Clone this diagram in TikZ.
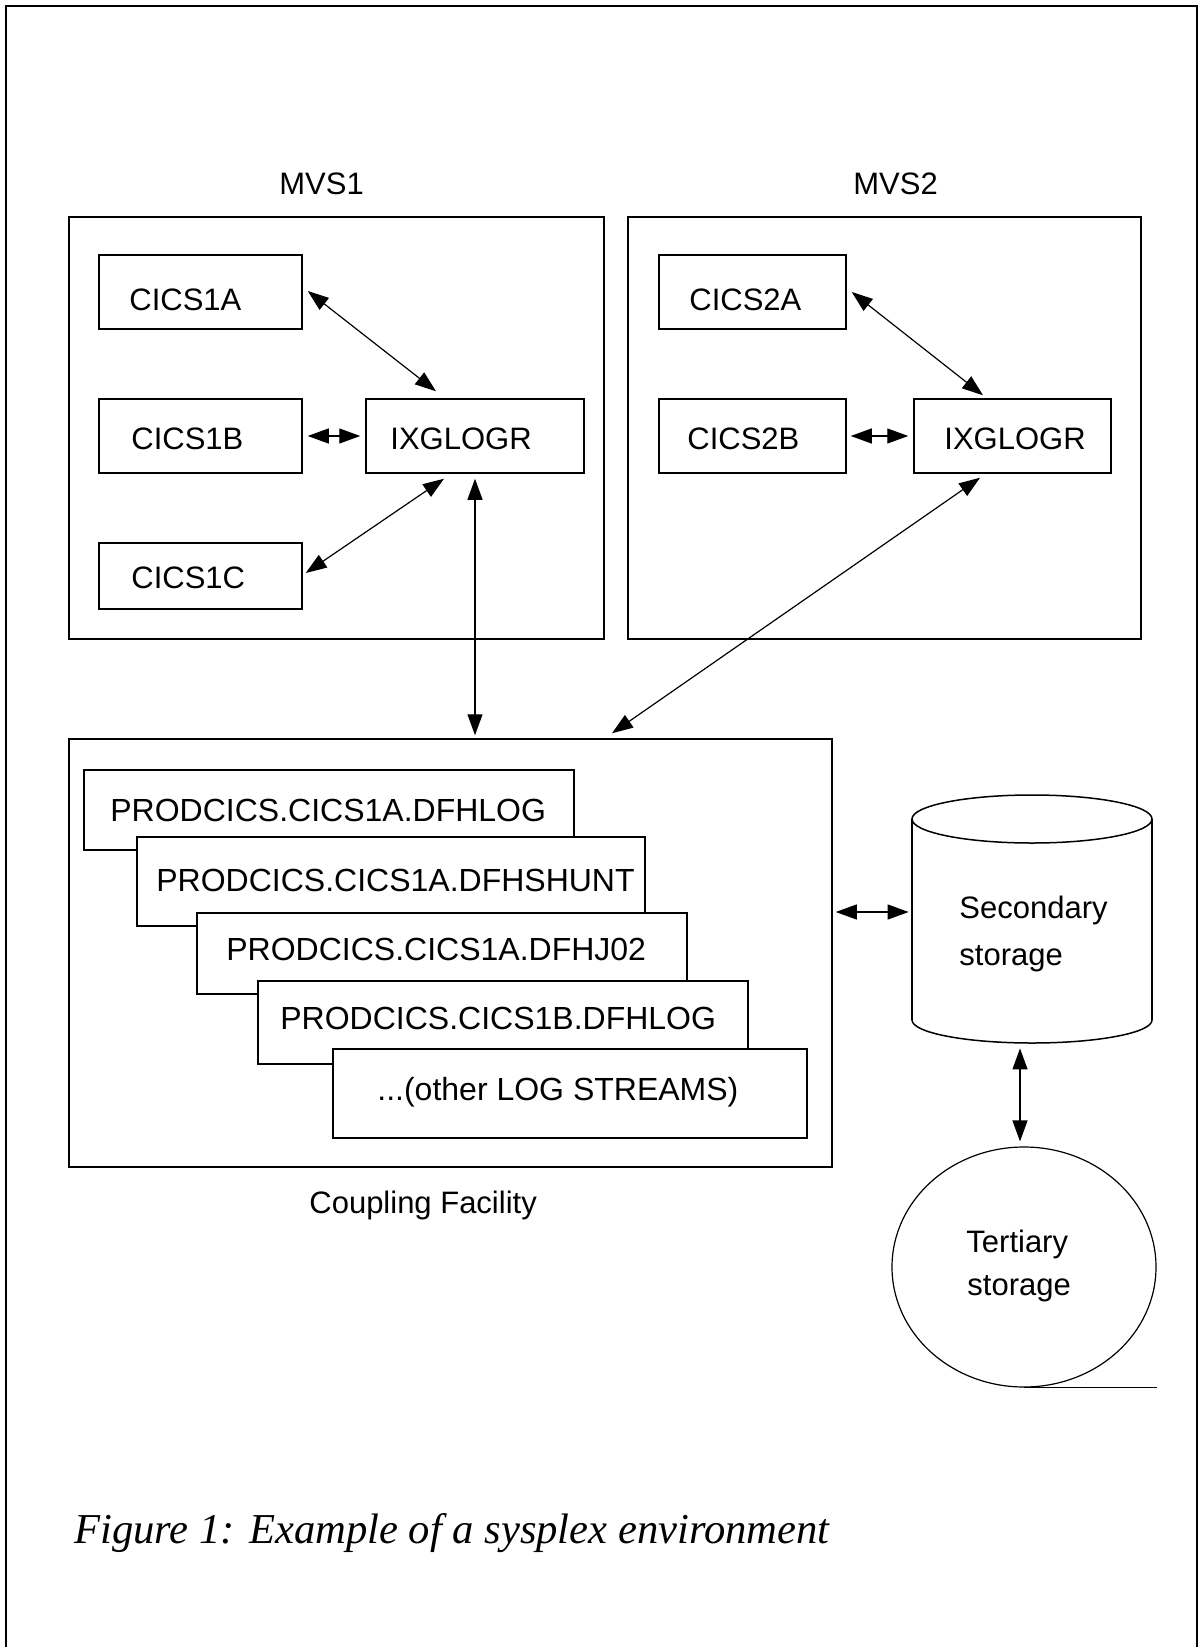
\documentclass[tikz,border=0pt]{standalone}
\usepackage{fontspec}
\setmainfont{Liberation Serif}
\newfontfamily\arialfont{Liberation Sans}
\usetikzlibrary{arrows.meta,fit,shapes.geometric}
\begin{document}
\begin{tikzpicture}[x=0.5pt,y=-0.5pt,
  box/.style={draw, line width=0.75pt, inner sep=0pt, fill=white},
  lbl/.style={font=\arialfont\fontsize{15.5}{18}\selectfont, inner sep=0pt, anchor=base west},
  lslbl/.style={font=\arialfont\fontsize{16}{19}\selectfont, inner sep=0pt, anchor=base west},
  arr/.style={line width=0.6pt, {Triangle[length=10.5pt,width=7.5pt]}-{Triangle[length=10.5pt,width=7.5pt]}},
  frame/.style={line width=1pt},
]
\useasboundingbox (0,0) rectangle (1199,1647);
% outer frame (open at the bottom)
\draw[frame] (6,1647) -- (6,6) -- (1197,6) -- (1197,1647);

% system boxes
\node[box, fit={(69,217)(604,639)}] (mvs1) {};
\node[box, fit={(628,217)(1141,639)}] (mvs2) {};
\node[lbl] (mvs1l) at (279,195) {MVS1};
\node[lbl] (mvs2l) at (853,195) {MVS2};

% MVS1 contents
\node[box, fit={(99,255)(302,329)}] (c1a) {};
\node[box, fit={(99,399)(302,473)}] (c1b) {};
\node[box, fit={(99,543)(302,609)}] (c1c) {};
\node[box, fit={(366,399)(584,473)}] (ix1) {};
\node[lbl] at (129,311) {CICS1A};
\node[lbl] at (131,449) {CICS1B};
\node[lbl] at (131,588) {CICS1C};
\node[lbl] at (390,449) {IXGLOGR};

% MVS2 contents
\node[box, fit={(659,255)(846,329)}] (c2a) {};
\node[box, fit={(659,399)(846,473)}] (c2b) {};
\node[box, fit={(914,399)(1111,473)}] (ix2) {};
\node[lbl] at (689,311) {CICS2A};
\node[lbl] at (687,449) {CICS2B};
\node[lbl] at (944,449) {IXGLOGR};

% coupling facility
\node[box, fit={(69,739)(832,1167)}] (cf) {};
\node[lbl] (cfl) at (309,1213) {Coupling Facility};
\node[box, fit={(84,770)(574,850)}] (ls1) {};
\node[lslbl] at (110,821) {PRODCICS.CICS1A.DFHLOG};
\node[box, fit={(137,837)(645,926)}] (ls2) {};
\node[lslbl] at (156,891) {PRODCICS.CICS1A.DFHSHUNT};
\node[box, fit={(197,913)(687,994)}] (ls3) {};
\node[lslbl] at (226,960) {PRODCICS.CICS1A.DFHJ02};
\node[box, fit={(258,981)(748,1064)}] (ls4) {};
\node[lslbl] at (280,1029) {PRODCICS.CICS1B.DFHLOG};
\node[box, fit={(333,1049)(807,1138)}] (ls5) {};
\node[lslbl] at (377,1100) {...(other LOG STREAMS)};

% secondary storage (cylinder)
\node[inner sep=0pt, fit={(912,795)(1152,1043)}] (sec) {};
\draw[line width=0.75pt] (912,819) -- (912,1020);
\draw[line width=0.75pt] (1152,819) -- (1152,1020);
\draw[line width=0.75pt] (1032,819) ellipse (120 and 24);
\begin{scope}
  \clip (900,1020) rectangle (1164,1060);
  \draw[line width=0.75pt] (1032,1020) ellipse (120 and 23);
\end{scope}
\node[lbl] at (959,918) {Secondary};
\node[lbl] at (959,965) {storage};

% tertiary storage (tape)
\node[draw, line width=0.6pt, ellipse, inner sep=0pt, minimum width=132pt, minimum height=120pt] (tert) at (1024,1267) {};
\draw[line width=0.6pt] (tert.south) -- (tert.south -| tert.east);
\node[lbl] at (966,1252) {Tertiary};
\node[lbl] at (967,1295) {storage};

% connectors
\draw[arr] ([xshift=2.5pt,yshift=0.5pt]c1a.east) -- ([xshift=-19.5pt,yshift=3.5pt]ix1.north);
\draw[arr] ([xshift=2.5pt]c1b.east) -- ([xshift=-2.5pt]ix1.west);
\draw[arr] ([xshift=1.5pt,yshift=1.5pt]c1c.east) -- ([xshift=-15.5pt,yshift=-2.5pt]ix1.south);
\draw[arr] ([yshift=-2.5pt]ix1.south) -- ([yshift=1.5pt]ix1.south |- cf.north);
\draw[arr] ([xshift=2.5pt]c2a.east) -- ([xshift=-14.75pt,yshift=1.5pt]ix2.north);
\draw[arr] ([xshift=2pt]c2b.east) -- ([xshift=-2.5pt]ix2.west);
\draw[arr] ([xshift=-16.25pt,yshift=-2pt]ix2.south) -- ([xshift=80.75pt,yshift=2.5pt]cf.north);
\draw[arr] ([xshift=1.5pt,yshift=20.5pt]cf.east) -- ([xshift=-1.5pt,yshift=3.5pt]sec.west);
\draw[arr] ([xshift=-6pt,yshift=-2.5pt]sec.south) -- ([xshift=-2pt,yshift=2.5pt]tert.north);

% caption
\node[anchor=base west, inner sep=0pt, font=\itshape\fontsize{21.3}{25}\selectfont] (cap) at (74,1543) {Figure 1: Example of a sysplex environment};
\end{tikzpicture}
\end{document}
